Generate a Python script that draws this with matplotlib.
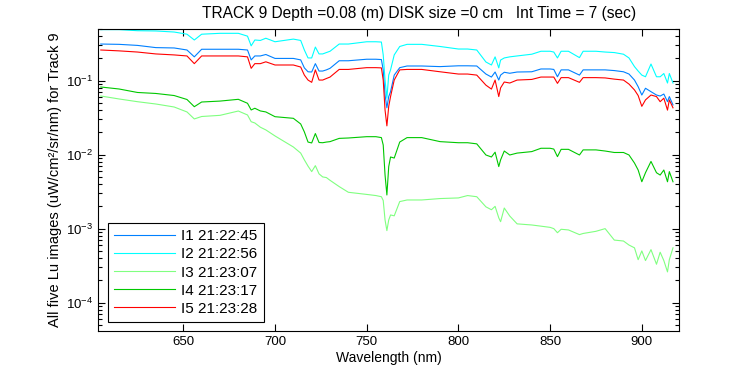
import matplotlib
matplotlib.use('Agg')
import matplotlib.pyplot as plt
from matplotlib.ticker import LogLocator, NullFormatter

plt.rcParams['font.family'] = ['Liberation Sans', 'DejaVu Sans']
plt.rcParams['mathtext.fontset'] = 'custom'
plt.rcParams['mathtext.rm'] = 'Liberation Sans'

# === Data ===
wavelength = [605, 615, 625, 635, 645, 652, 656, 660, 670, 680,
              685, 687, 689, 692, 695, 700, 710, 714, 716, 718,
              720, 722, 724, 726, 728, 730, 735, 740, 750, 755,
              758, 759, 760, 761, 762, 763, 765, 768, 772, 780,
              790, 800, 805, 810, 815, 818, 820, 822, 823, 825,
              828, 832, 840, 845, 850, 852, 854, 856, 860, 866,
              868, 875, 880, 885, 890, 893, 896, 898, 900, 902,
              905, 908, 910, 912, 914, 915, 917]

lu_i1 = [0.313, 0.31, 0.30, 0.28, 0.277, 0.26, 0.21, 0.266, 0.266, 0.266,
         0.26, 0.191, 0.216, 0.216, 0.226, 0.20, 0.20, 0.191, 0.149, 0.132,
         0.131, 0.17, 0.135, 0.135, 0.14, 0.147, 0.186, 0.186, 0.195, 0.195,
         0.193, 0.14, 0.064, 0.043, 0.061, 0.071, 0.119, 0.15, 0.158, 0.158,
         0.155, 0.159, 0.159, 0.158, 0.123, 0.112, 0.131, 0.102, 0.119, 0.13,
         0.126, 0.131, 0.132, 0.144, 0.144, 0.142, 0.113, 0.14, 0.14, 0.119,
         0.14, 0.14, 0.14, 0.137, 0.132, 0.123, 0.102, 0.083, 0.064, 0.079,
         0.071, 0.064, 0.062, 0.066, 0.052, 0.061, 0.047]

lu_i2 = [0.49, 0.49, 0.474, 0.47, 0.455, 0.425, 0.355, 0.425, 0.437, 0.437,
         0.40, 0.296, 0.355, 0.35, 0.375, 0.336, 0.365, 0.35, 0.26, 0.203,
         0.203, 0.285, 0.23, 0.23, 0.24, 0.25, 0.313, 0.313, 0.336, 0.336,
         0.333, 0.223, 0.102, 0.058, 0.119, 0.14, 0.223, 0.29, 0.31, 0.31,
         0.29, 0.268, 0.268, 0.26, 0.179, 0.163, 0.21, 0.149, 0.19, 0.203,
         0.21, 0.216, 0.228, 0.25, 0.25, 0.244, 0.203, 0.25, 0.25, 0.205,
         0.25, 0.25, 0.244, 0.24, 0.228, 0.203, 0.155, 0.135, 0.119, 0.113,
         0.168, 0.113, 0.113, 0.125, 0.093, 0.125, 0.093]

lu_i3 = [0.0621, 0.0566, 0.052, 0.0484, 0.0441, 0.0378, 0.0304, 0.0328, 0.034, 0.0389,
         0.0344, 0.0279, 0.0268, 0.0235, 0.0216, 0.0179, 0.0127, 0.0105, 0.0085, 0.007,
         0.0059, 0.0071, 0.0055, 0.005, 0.0049, 0.0045, 0.0037, 0.0031, 0.0029, 0.0028,
         0.0027, 0.0024, 0.00131, 0.00094, 0.00131, 0.00153, 0.00149, 0.00232, 0.00244, 0.00244,
         0.00255, 0.0026, 0.0028, 0.0027, 0.00197, 0.0018, 0.002, 0.0014, 0.00124, 0.0019,
         0.00148, 0.00116, 0.00112, 0.00108, 0.00104, 0.001, 0.00088, 0.00098, 0.00096, 0.00083,
         0.00086, 0.00092, 0.001, 0.0007, 0.00068, 0.0006, 0.00055, 0.00038, 0.0005, 0.00037,
         0.00052, 0.00033, 0.00048, 0.00037, 0.00026, 0.00038, 0.00055]

lu_i4 = [0.0822, 0.0772, 0.0693, 0.0672, 0.063, 0.0557, 0.0445, 0.0515, 0.053, 0.056,
         0.0495, 0.0402, 0.0424, 0.039, 0.0378, 0.0326, 0.031, 0.026, 0.0203, 0.0148,
         0.0144, 0.0193, 0.0146, 0.0145, 0.0148, 0.015, 0.0166, 0.0168, 0.0175, 0.0175,
         0.017, 0.0135, 0.0053, 0.00285, 0.0069, 0.0093, 0.009, 0.0148, 0.017, 0.017,
         0.015, 0.0145, 0.0145, 0.014, 0.0099, 0.0093, 0.0108, 0.0069, 0.0085, 0.0112,
         0.0099, 0.0105, 0.011, 0.0122, 0.0122, 0.0119, 0.0094, 0.0118, 0.0118, 0.0099,
         0.0116, 0.0116, 0.0112, 0.0107, 0.0107, 0.0099, 0.0077, 0.0062, 0.0043, 0.0057,
         0.0081, 0.0057, 0.0053, 0.0062, 0.0043, 0.0059, 0.0043]

lu_i5 = [0.26, 0.253, 0.244, 0.23, 0.223, 0.216, 0.17, 0.216, 0.216, 0.216,
         0.21, 0.147, 0.17, 0.17, 0.18, 0.163, 0.163, 0.153, 0.119, 0.102,
         0.095, 0.14, 0.102, 0.102, 0.107, 0.112, 0.142, 0.142, 0.15, 0.15,
         0.149, 0.102, 0.040, 0.0245, 0.045, 0.061, 0.102, 0.14, 0.142, 0.142,
         0.132, 0.123, 0.123, 0.119, 0.087, 0.077, 0.102, 0.061, 0.08, 0.096,
         0.093, 0.102, 0.104, 0.112, 0.112, 0.112, 0.092, 0.11, 0.11, 0.095,
         0.11, 0.11, 0.109, 0.105, 0.102, 0.09, 0.075, 0.063, 0.045, 0.055,
         0.064, 0.061, 0.052, 0.058, 0.040, 0.055, 0.043]

labels = ['I1 21:22:45', 'I2 21:22:56', 'I3 21:23:07', 'I4 21:23:17', 'I5 21:23:28']
colors = ['#0080ff', '#00ffff', '#80ff80', '#00c800', '#ff0000']

# === Plot ===
fig = plt.figure(figsize=(7.5, 3.75), dpi=100)
ax = fig.add_axes([0.1307, 0.1167, 0.7747, 0.806])

for series, lab, col in zip([lu_i1, lu_i2, lu_i3, lu_i4, lu_i5], labels, colors):
    ax.plot(wavelength, series, color=col, lw=0.8, label=lab)

ax.set_yscale('log')
ax.set_xlim(603.5, 920.3)
ax.set_ylim(4.1e-5, 0.5)
ax.set_xticks([650, 700, 750, 800, 850, 900])
ax.yaxis.set_major_locator(LogLocator(base=10, numticks=10))
ax.yaxis.set_minor_locator(LogLocator(base=10, subs=range(2, 10), numticks=10))
ax.yaxis.set_minor_formatter(NullFormatter())
ax.tick_params(which='both', direction='in', top=True, right=True, labelsize=9.5, width=0.8)
ax.tick_params(which='major', length=5)
ax.tick_params(which='minor', length=3)
for s in ax.spines.values():
    s.set_linewidth(0.8)

ax.set_xlabel('Wavelength (nm)', fontsize=10, labelpad=2)
ax.set_ylabel('All five Lu images (uW/cm²/sr/nm) for Track 9', fontsize=10.5, labelpad=3)
fig.text(0.559, 0.965, 'TRACK 9 Depth =0.08 (m) DISK size =0 cm   Int Time = 7 (sec)',
         ha='center', va='center', fontsize=11.2)

leg = ax.legend(loc='lower left', bbox_to_anchor=(0.017, 0.031), borderaxespad=0,
                fancybox=False, edgecolor='black', framealpha=1, fontsize=11,
                handlelength=4.0, handletextpad=0.4, labelspacing=0.27, borderpad=0.4)
leg.get_frame().set_linewidth(0.8)

fig.savefig('out.png', dpi=100)
